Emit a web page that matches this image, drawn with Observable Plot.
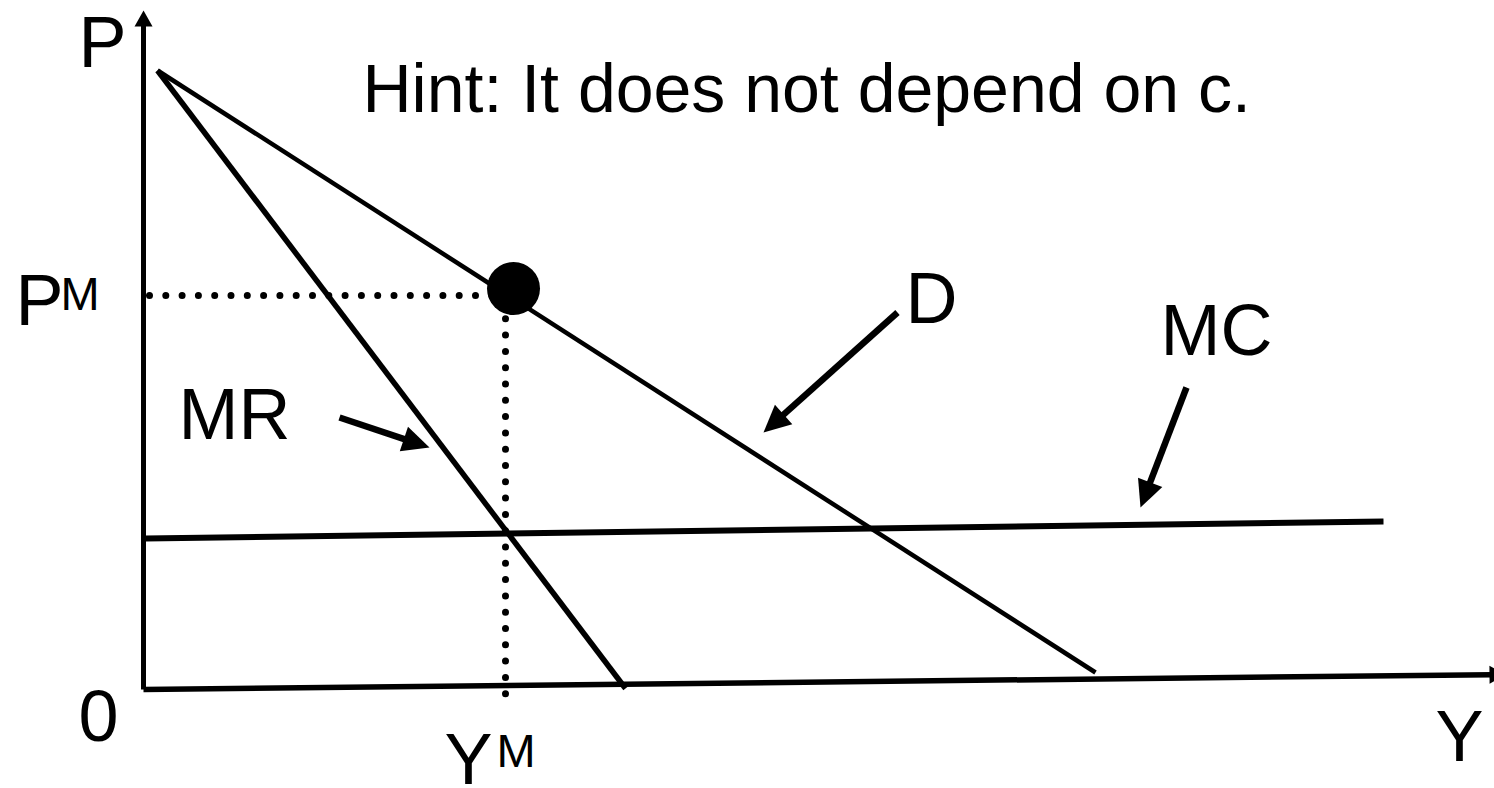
<!DOCTYPE html>
<html><head><meta charset="utf-8">
<script src="https://cdn.jsdelivr.net/npm/d3@7"></script>
<script src="https://cdn.jsdelivr.net/npm/@observablehq/plot@0.6"></script>
<style>html,body{margin:0;padding:0;background:#fff}#chart svg{display:block}</style>
</head><body><div id="chart"></div>
<script>
// Diagram units: q = quantity (Y), p = price (P); origin at the axes corner.
const yAxisLine = [{q: 0, p: 0}, {q: 0, p: 679}];
const xAxisLine = [{q: 0, p: 0}, {q: 1362, p: 15}];
const demandCurve = [{q: 14, p: 619}, {q: 952, p: 17}];
const mrCurve = [{q: 14, p: 619}, {q: 482, p: 1}];
const mcCurve = [{q: 2, p: 151}, {q: 1240, p: 168}];
const monopolyPoint = [{q: 370, p: 401}];
const pmGuide = [{q: 6, p: 394}, {q: 352, p: 394}];
const ymGuide = [{q: 362, p: 387}, {q: 362, p: -5}];
const pointers = [
  {id: "MR", q1: 196, p1: 272, q2: 286, p2: 242},
  {id: "D", q1: 754, p1: 377, q2: 620, p2: 257},
  {id: "MC", q1: 1043, p1: 302, q2: 997, p2: 182}
];
const bigLabels = [
  {text: "P", q: -65, p: 623},
  {text: "P", q: -128, p: 365},
  {text: "MR", q: 35, p: 251},
  {text: "D", q: 762, p: 367},
  {text: "MC", q: 1017, p: 335},
  {text: "0", q: -65, p: -51},
  {text: "Y", q: 301, p: -94},
  {text: "Y", q: 1292, p: -71}
];
const supLabels = [
  {text: "M", q: -83, p: 380},
  {text: "M", q: 353, p: -77}
];
const hintLabel = [{text: "Hint: It does not depend on c.", q: 219, p: 578}];

// arrow geometry helpers (derived from the data above)
function headTri(id, fromQ, fromP, tipQ, tipP, len, half) {
  const dx = tipQ - fromQ, dy = tipP - fromP, L = Math.hypot(dx, dy);
  const ux = dx / L, uy = dy / L, bx = tipQ - ux * len, by = tipP - uy * len;
  return [
    {id, q: tipQ, p: tipP},
    {id, q: bx - uy * half, p: by + ux * half},
    {id, q: bx + uy * half, p: by - ux * half},
    {id, q: tipQ, p: tipP}
  ];
}
function shaftEnd(fromQ, fromP, tipQ, tipP, len) {
  const dx = tipQ - fromQ, dy = tipP - fromP, L = Math.hypot(dx, dy);
  return {q: tipQ - dx / L * (len - 2), p: tipP - dy / L * (len - 2)};
}
const heads = [];
const shafts = [];
for (const a of pointers) {
  heads.push(...headTri(a.id, a.q1, a.p1, a.q2, a.p2, 27, 13));
  const e = shaftEnd(a.q1, a.p1, a.q2, a.p2, 27);
  shafts.push({id: a.id, q: a.q1, p: a.p1}, {id: a.id, q: e.q, p: e.p});
}
const ya = yAxisLine, xa = xAxisLine;
heads.push(...headTri("yaxis", ya[0].q, ya[0].p, ya[1].q, ya[1].p, 16, 9));
heads.push(...headTri("xaxis", xa[0].q, xa[0].p, xa[1].q, xa[1].p, 16, 9));
const yEnd = shaftEnd(ya[0].q, ya[0].p, ya[1].q, ya[1].p, 16);
const xEnd = shaftEnd(xa[0].q, xa[0].p, xa[1].q, xa[1].p, 16);

const font = "'Liberation Sans', Arial, Helvetica, sans-serif";
const chart = Plot.plot({
  width: 1494, height: 788,
  marginTop: 0, marginRight: 0, marginBottom: 0, marginLeft: 0,
  x: {domain: [-143, 1351], axis: null},
  y: {domain: [-99, 689], axis: null},
  style: {background: "#fff", color: "#000", overflow: "hidden"},
  marks: [
    Plot.line([ya[0], yEnd], {x: "q", y: "p", stroke: "#000", strokeWidth: 5, strokeLinecap: "butt"}),
    Plot.line([xa[0], xEnd], {x: "q", y: "p", stroke: "#000", strokeWidth: 5.5, strokeLinecap: "butt"}),
    Plot.line(mcCurve, {x: "q", y: "p", stroke: "#000", strokeWidth: 6, strokeLinecap: "butt"}),
    Plot.line(demandCurve, {x: "q", y: "p", stroke: "#000", strokeWidth: 4.5, strokeLinecap: "butt"}),
    Plot.line(mrCurve, {x: "q", y: "p", stroke: "#000", strokeWidth: 5.5, strokeLinecap: "butt"}),
    Plot.line(pmGuide, {x: "q", y: "p", stroke: "#000", strokeWidth: 7, strokeLinecap: "round", strokeDasharray: "0 16.3"}),
    Plot.line(ymGuide, {x: "q", y: "p", stroke: "#000", strokeWidth: 7, strokeLinecap: "round", strokeDasharray: "0 16.3"}),
    Plot.line(shafts, {x: "q", y: "p", z: "id", stroke: "#000", strokeWidth: 6.5, strokeLinecap: "butt"}),
    Plot.line(heads, {x: "q", y: "p", z: "id", fill: "#000", stroke: "none"}),
    Plot.dot(monopolyPoint, {x: "q", y: "p", r: 26.5, fill: "#000", stroke: "none"}),
    Plot.text(bigLabels, {x: "q", y: "p", text: "text", fontSize: 72, fontFamily: font, textAnchor: "start", lineAnchor: "bottom", fill: "#000"}),
    Plot.text(supLabels, {x: "q", y: "p", text: "text", fontSize: 47, fontFamily: font, textAnchor: "start", lineAnchor: "bottom", fill: "#000"}),
    Plot.text(hintLabel, {x: "q", y: "p", text: "text", fontSize: 68, fontFamily: font, textAnchor: "start", lineAnchor: "bottom", fill: "#000"})
  ]
});
document.getElementById("chart").append(chart);
</script>
</body></html>
